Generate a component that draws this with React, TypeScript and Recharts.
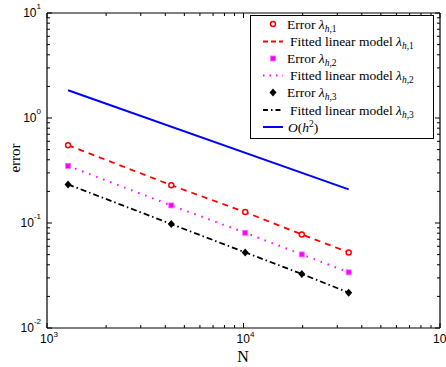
import React from 'react';
import { ComposedChart, Line, XAxis, YAxis, Legend } from 'recharts';

// ---- data ----
const N = [1280, 4290, 10200, 19800, 34300];
const err1 = [0.551, 0.229, 0.127, 0.0778, 0.0525];
const err2 = [0.35, 0.147, 0.0807, 0.0502, 0.0339];
const err3 = [0.233, 0.0977, 0.0525, 0.0327, 0.0217];
const refO = [1.84, null, null, null, 0.209];

const xTicks = [1000, 2000, 3000, 4000, 5000, 6000, 7000, 8000, 9000, 10000, 20000, 30000, 40000, 50000, 60000, 70000, 80000, 90000, 100000];
const yTicks = [0.01, 0.02, 0.03, 0.04, 0.05, 0.06, 0.07, 0.08, 0.09, 0.1, 0.2, 0.3, 0.4, 0.5, 0.6, 0.7, 0.8, 0.9, 1, 2, 3, 4, 5, 6, 7, 8, 9, 10];

const legendRows = [
  { kind: 'circle', color: '#ff0000', text: 'Error ', sub: 'h,1', offset: 0 },
  { kind: 'dash', color: '#ff0000', text: 'Fitted linear model ', sub: 'h,1', offset: 3 },
  { kind: 'square', color: '#ff00ff', text: 'Error ', sub: 'h,2', offset: 0 },
  { kind: 'dot', color: '#ff00ff', text: 'Fitted linear model ', sub: 'h,2', offset: 3 },
  { kind: 'diamond', color: '#000000', text: 'Error ', sub: 'h,3', offset: 0 },
  { kind: 'dashdot', color: '#000000', text: 'Fitted linear model ', sub: 'h,3', offset: 3 },
  { kind: 'solid', color: '#0000ff', text: 'O', sub: '', offset: 1 },
];

const rows = N.map((n, i) => ({ N: n, e1: err1[i], e2: err2[i], e3: err3[i], o: refO[i] }));

const W = 446;
const H = 367;
const M = { top: 12, right: 5, bottom: 38, left: 46 };

const isMajor = (v: number) => Math.abs(Math.log10(v) - Math.round(Math.log10(v))) < 1e-6;
const expo = (v: number) => Math.round(Math.log10(v));
const TICK_FONT = '"Liberation Sans", Arial, sans-serif';
const SERIF = '"Liberation Serif", "Times New Roman", serif';

const BottomTick = (p: any) => {
  const { x, y, payload } = p;
  const v = payload.value;
  const major = isMajor(v);
  const len = major ? 5 : 3;
  return (
    <g>
      <line x1={x} x2={x} y1={y} y2={y - len} stroke="#000" strokeWidth={1} />
      {major && (
        <text x={x + 2} y={y + 15} textAnchor="middle" fontFamily={TICK_FONT} fontSize={12} fill="#000">
          <tspan>10</tspan>
          <tspan fontSize={8} dy={-6}>{expo(v)}</tspan>
        </text>
      )}
    </g>
  );
};

const TopTick = (p: any) => {
  const { x, y, payload } = p;
  const len = isMajor(payload.value) ? 5 : 3;
  return <line x1={x} x2={x} y1={y} y2={y + len} stroke="#000" strokeWidth={1} />;
};

const LeftTick = (p: any) => {
  const { x, y, payload } = p;
  const v = payload.value;
  const major = isMajor(v);
  const len = major ? 5 : 3;
  return (
    <g>
      <line x1={x} x2={x + len} y1={y} y2={y} stroke="#000" strokeWidth={1} />
      {major && (
        <text x={x - 6} y={y + 4} textAnchor="end" fontFamily={TICK_FONT} fontSize={12} fill="#000">
          <tspan>10</tspan>
          <tspan fontSize={8} dy={-8}>{expo(v)}</tspan>
        </text>
      )}
    </g>
  );
};

const RightTick = (p: any) => {
  const { x, y, payload } = p;
  const len = isMajor(payload.value) ? 5 : 3;
  return <line x1={x} x2={x - len} y1={y} y2={y} stroke="#000" strokeWidth={1} />;
};

const SquareDot = (p: any) => {
  const { cx, cy } = p;
  if (cx == null || cy == null) return null;
  return <rect x={cx - 2.5} y={cy - 2.5} width={5} height={5} fill="#ff00ff" stroke="#ff66ff" strokeWidth={0.8} />;
};

const DiamondDot = (p: any) => {
  const { cx, cy } = p;
  if (cx == null || cy == null) return null;
  return <polygon points={`${cx},${cy - 4} ${cx + 3.5},${cy} ${cx},${cy + 4} ${cx - 3.5},${cy}`} fill="#000" />;
};

const LEG_W = 184;
const LEG_H = 124;
const LEG_ROWS = [9, 26.5, 43.5, 60.5, 77.5, 95, 112];

const LegendBox = () => (
  <svg width={LEG_W} height={LEG_H} style={{ display: 'block' }}>
    <rect x={0.5} y={0.5} width={LEG_W - 1} height={LEG_H - 1} fill="#fff" stroke="#000" strokeWidth={1} />
    {legendRows.map((r, i) => {
      const cy = LEG_ROWS[i];
      const mx = 23;
      let sample: any = null;
      if (r.kind === 'circle') sample = <circle cx={mx} cy={cy} r={2.5} fill="#fff" stroke={r.color} strokeWidth={1.5} />;
      else if (r.kind === 'square') sample = <rect x={mx - 2.5} y={cy - 2.5} width={5} height={5} fill={r.color} stroke="#ff66ff" strokeWidth={0.8} />;
      else if (r.kind === 'diamond') sample = <polygon points={`${mx},${cy - 4} ${mx + 3.5},${cy} ${mx},${cy + 4} ${mx - 3.5},${cy}`} fill="#000" />;
      else {
        const dash = r.kind === 'dash' ? '5 3' : r.kind === 'dot' ? '1.5 5' : r.kind === 'dashdot' ? '5 3 1.5 3' : undefined;
        sample = <line x1={13} x2={33} y1={cy} y2={cy} stroke={r.color} strokeWidth={r.kind === 'solid' ? 2 : 1.8} strokeDasharray={dash} />;
      }
      const tx = 37 + r.offset;
      return (
        <g key={i}>
          {sample}
          {r.kind === 'solid' ? (
            <text x={tx} y={cy + 4.5} fontFamily={SERIF} fontSize={13.5} fill="#000">
              <tspan fontStyle="italic">{r.text}</tspan>
              <tspan>(</tspan>
              <tspan fontStyle="italic">h</tspan>
              <tspan fontSize={9.5} dy={-5}>2</tspan>
              <tspan dy={5}>)</tspan>
            </text>
          ) : (
            <text x={tx} y={cy + 4.5} fontFamily={SERIF} fontSize={13.5} fill="#000">
              <tspan>{r.text}</tspan>
              <tspan fontStyle="italic">λ</tspan>
              <tspan fontSize={9.5} dy={3}>
                <tspan fontStyle="italic">h</tspan>
                <tspan>{r.sub.slice(1)}</tspan>
              </tspan>
            </text>
          )}
        </g>
      );
    })}
  </svg>
);

export default function App() {
  return (
    <div style={{ position: 'absolute', left: 0, top: 0, width: W, height: H, background: '#fff' }}>
      <ComposedChart width={W} height={H} data={rows} margin={M}>
        <XAxis
          xAxisId="b"
          dataKey="N"
          type="number"
          scale="log"
          domain={[1000, 100000]}
          allowDataOverflow
          ticks={xTicks}
          interval={0}
          orientation="bottom"
          height={1}
          tickSize={0}
          tickMargin={0}
          tickLine={false}
          axisLine={{ stroke: '#000', strokeWidth: 1.2 }}
          tick={<BottomTick />}
        />
        <XAxis
          xAxisId="t"
          dataKey="N"
          type="number"
          scale="log"
          domain={[1000, 100000]}
          allowDataOverflow
          ticks={xTicks}
          interval={0}
          orientation="top"
          height={1}
          tickSize={0}
          tickMargin={0}
          tickLine={false}
          axisLine={{ stroke: '#000', strokeWidth: 1.2 }}
          tick={<TopTick />}
        />
        <YAxis
          yAxisId="l"
          type="number"
          scale="log"
          domain={[0.01, 10]}
          allowDataOverflow
          ticks={yTicks}
          interval={0}
          orientation="left"
          width={1}
          tickSize={0}
          tickMargin={0}
          tickLine={false}
          axisLine={{ stroke: '#000', strokeWidth: 1.2 }}
          tick={<LeftTick />}
        />
        <YAxis
          yAxisId="r"
          type="number"
          scale="log"
          domain={[0.01, 10]}
          allowDataOverflow
          ticks={yTicks}
          interval={0}
          orientation="right"
          width={1}
          tickSize={0}
          tickMargin={0}
          tickLine={false}
          axisLine={{ stroke: '#000', strokeWidth: 1.2 }}
          tick={<RightTick />}
        />
        <Line xAxisId="b" yAxisId="l" dataKey="o" stroke="#0000ff" strokeWidth={2} dot={false} connectNulls isAnimationActive={false} />
        <Line
          xAxisId="b"
          yAxisId="l"
          dataKey="e1"
          stroke="#ff0000"
          strokeWidth={1.8}
          strokeDasharray="6 5"
          dot={{ r: 2.5, stroke: '#ff0000', strokeWidth: 1.5, fill: '#fff', strokeDasharray: '' }}
          isAnimationActive={false}
        />
        <Line
          xAxisId="b"
          yAxisId="l"
          dataKey="e2"
          stroke="#ff00ff"
          strokeWidth={2}
          strokeDasharray="1.5 6"
          dot={<SquareDot />}
          isAnimationActive={false}
        />
        <Line
          xAxisId="b"
          yAxisId="l"
          dataKey="e3"
          stroke="#000000"
          strokeWidth={1.8}
          strokeDasharray="6 3 1.5 3"
          dot={<DiamondDot />}
          isAnimationActive={false}
        />
        <Legend
          layout="vertical"
          align="center"
          verticalAlign="middle"
          content={() => <LegendBox />}
          wrapperStyle={{ position: 'absolute', left: 250, top: 15, width: LEG_W, height: LEG_H }}
        />
      </ComposedChart>
      <svg width={W} height={H} style={{ position: 'absolute', left: 0, top: 0, pointerEvents: 'none' }}>
        <text x={19.5} y={158} transform="rotate(-90 19.5 158)" textAnchor="middle" fontFamily={SERIF} fontSize={15} fill="#000">error</text>
        <text x={243} y={362} textAnchor="middle" fontFamily={SERIF} fontSize={16} fill="#000">N</text>
      </svg>
    </div>
  );
}
